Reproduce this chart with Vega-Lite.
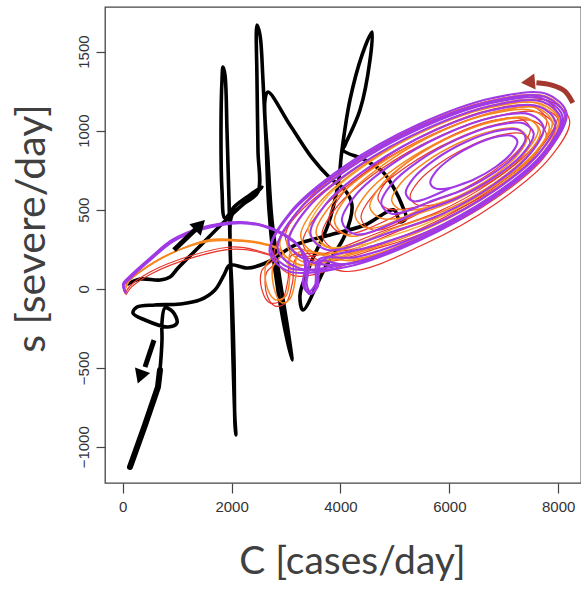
{
  "$schema": "https://vega.github.io/schema/vega-lite/v6.json",
  "width": 476,
  "height": 476,
  "autosize": {"type": "none"},
  "padding": {"left": 105, "top": 7, "right": 0, "bottom": 108},
  "background": "white",
  "config": {"view": {"stroke": "#444", "strokeWidth": 1.3}},
  "datasets": {
    "obs": [
      {"C":97,"s":30},{"C":318,"s":61},{"C":685,"s":55},{"C":869,"s":74},{"C":1016,"s":131},{"C":1420,"s":270},{"C":1879,"s":428},{"C":2338,"s":574},{"C":2559,"s":643},
      {"C":2338,"s":593},{"C":2063,"s":523},{"C":1879,"s":447},
      {"C":1824,"s":624},{"C":1806,"s":1004},{"C":1824,"s":1320},{"C":1842,"s":1402},{"C":1879,"s":1352},{"C":1916,"s":1004},{"C":1953,"s":561},
      {"C":1989,"s":55},{"C":2026,"s":-451},{"C":2063,"s":-831},{"C":2081,"s":-925},{"C":2063,"s":-862},{"C":2045,"s":-451},{"C":2008,"s":-8},{"C":1971,"s":308},{"C":2008,"s":466},
      {"C":2247,"s":542},{"C":2485,"s":612},
      {"C":2485,"s":877},{"C":2467,"s":1320},{"C":2467,"s":1668},{"C":2522,"s":1605},{"C":2577,"s":1320},{"C":2632,"s":940},{"C":2687,"s":498},{"C":2797,"s":118},{"C":2945,"s":-198},{"C":3110,"s":-451},{"C":3036,"s":-261},{"C":2890,"s":55},{"C":2742,"s":435},{"C":2669,"s":814},{"C":2614,"s":1194},{"C":2669,"s":1244},
      {"C":3073,"s":1035},{"C":3478,"s":827},{"C":3808,"s":700},{"C":4084,"s":624},
      {"C":4212,"s":529},{"C":4084,"s":340},{"C":3716,"s":131},{"C":3312,"s":-135},{"C":3257,"s":-40},{"C":3441,"s":150},{"C":3771,"s":403},{"C":3955,"s":656},{"C":4028,"s":877},
      {"C":4175,"s":1194},{"C":4396,"s":1478},{"C":4579,"s":1624},{"C":4543,"s":1447},{"C":4359,"s":1130},{"C":4084,"s":909},{"C":4047,"s":877},
      {"C":4451,"s":814},{"C":4781,"s":738},{"C":5002,"s":624},{"C":5131,"s":529},{"C":5204,"s":447},{"C":5094,"s":422},{"C":4984,"s":498},
      {"C":4451,"s":403},{"C":3808,"s":340},{"C":3165,"s":276},{"C":2669,"s":169},{"C":2302,"s":131},{"C":1971,"s":150},{"C":1861,"s":87},{"C":1695,"s":-8},{"C":1420,"s":-71},{"C":1053,"s":-97},{"C":593,"s":-103},{"C":263,"s":-116},{"C":189,"s":-154},{"C":410,"s":-198},{"C":832,"s":-242},{"C":997,"s":-217},{"C":924,"s":-147},{"C":777,"s":-122},{"C":722,"s":-211},{"C":722,"s":-325},{"C":685,"s":-514},{"C":648,"s":-622},{"C":410,"s":-862},{"C":134,"s":-1128}
    ],
    "tail": [
      {"C":685,"s":-514},{"C":648,"s":-622},{"C":410,"s":-862},{"C":134,"s":-1128}
    ],
    "sim": [
      {"g":"r","r":"R1","C":42,"s":-34},{"g":"r","r":"R1","C":134,"s":17},{"g":"r","r":"R1","C":502,"s":106},{"g":"r","r":"R1","C":1236,"s":207},{"g":"r","r":"R1","C":2008,"s":264},{"g":"r","r":"R1","C":2559,"s":232},{"g":"r","r":"R1","C":2797,"s":194},
      {"g":"r","r":"R1","C":2559,"s":118},{"g":"r","r":"R1","C":2559,"s":-8},{"g":"r","r":"R1","C":2706,"s":-90},{"g":"r","r":"R1","C":2926,"s":-71},{"g":"r","r":"R1","C":3036,"s":55},{"g":"r","r":"R1","C":3110,"s":213},
      {"g":"r","r":"R1","C":4138,"s":109},{"g":"r","r":"R1","C":5495,"s":275},{"g":"r","r":"R1","C":6853,"s":538},{"g":"r","r":"R1","C":7846,"s":827},{"g":"r","r":"R1","C":8210,"s":1064},{"g":"r","r":"R1","C":7846,"s":1187},{"g":"r","r":"R1","C":6853,"s":1161},{"g":"r","r":"R1","C":5495,"s":995},{"g":"r","r":"R1","C":4138,"s":732},{"g":"r","r":"R1","C":3144,"s":443},{"g":"r","r":"R1","C":2780,"s":206},{"g":"r","r":"R1","C":3144,"s":83},
      {"g":"r","r":"R1","C":4496,"s":199},{"g":"r","r":"R1","C":5681,"s":345},{"g":"r","r":"R1","C":6866,"s":575},{"g":"r","r":"R1","C":7733,"s":828},{"g":"r","r":"R1","C":8051,"s":1035},{"g":"r","r":"R1","C":7733,"s":1143},{"g":"r","r":"R1","C":6866,"s":1121},{"g":"r","r":"R1","C":5681,"s":975},{"g":"r","r":"R1","C":4496,"s":745},{"g":"r","r":"R1","C":3629,"s":492},{"g":"r","r":"R1","C":3311,"s":285},{"g":"r","r":"R1","C":3629,"s":177},
      {"g":"r","r":"R1","C":4735,"s":261},{"g":"r","r":"R1","C":5805,"s":392},{"g":"r","r":"R1","C":6875,"s":600},{"g":"r","r":"R1","C":7658,"s":829},{"g":"r","r":"R1","C":7945,"s":1016},{"g":"r","r":"R1","C":7658,"s":1113},{"g":"r","r":"R1","C":6875,"s":1093},{"g":"r","r":"R1","C":5805,"s":962},{"g":"r","r":"R1","C":4735,"s":754},{"g":"r","r":"R1","C":3952,"s":525},{"g":"r","r":"R1","C":3665,"s":338},{"g":"r","r":"R1","C":3952,"s":241},
      {"g":"r","r":"R1","C":5230,"s":386},{"g":"r","r":"R1","C":6080,"s":490},{"g":"r","r":"R1","C":6930,"s":654},{"g":"r","r":"R1","C":7552,"s":835},{"g":"r","r":"R1","C":7780,"s":983},{"g":"r","r":"R1","C":7552,"s":1060},{"g":"r","r":"R1","C":6930,"s":1044},{"g":"r","r":"R1","C":6080,"s":940},{"g":"r","r":"R1","C":5230,"s":776},{"g":"r","r":"R1","C":4608,"s":595},{"g":"r","r":"R1","C":4380,"s":447},{"g":"r","r":"R1","C":4608,"s":370},
      {"g":"r","r":"R1","C":5830,"s":539},{"g":"r","r":"R1","C":6380,"s":607},{"g":"r","r":"R1","C":6930,"s":715},{"g":"r","r":"R1","C":7333,"s":834},{"g":"r","r":"R1","C":7480,"s":931},{"g":"r","r":"R1","C":7333,"s":982},{"g":"r","r":"R1","C":6930,"s":971},{"g":"r","r":"R1","C":6380,"s":903},{"g":"r","r":"R1","C":5830,"s":795},{"g":"r","r":"R1","C":5427,"s":676},{"g":"r","r":"R1","C":5280,"s":579},{"g":"r","r":"R1","C":5427,"s":528},{"g":"r","r":"R1","C":5830,"s":539},

      {"g":"r","r":"R2","C":60,"s":-40},{"g":"r","r":"R2","C":160,"s":10},{"g":"r","r":"R2","C":530,"s":95},{"g":"r","r":"R2","C":1270,"s":195},{"g":"r","r":"R2","C":2040,"s":250},{"g":"r","r":"R2","C":2600,"s":222},{"g":"r","r":"R2","C":2850,"s":180},
      {"g":"r","r":"R2","C":2640,"s":100},{"g":"r","r":"R2","C":2650,"s":-40},{"g":"r","r":"R2","C":2800,"s":-110},{"g":"r","r":"R2","C":3000,"s":-90},{"g":"r","r":"R2","C":3120,"s":40},{"g":"r","r":"R2","C":3200,"s":200},
      {"g":"r","r":"R2","C":4240,"s":231},{"g":"r","r":"R2","C":5490,"s":382},{"g":"r","r":"R2","C":6740,"s":621},{"g":"r","r":"R2","C":7655,"s":884},{"g":"r","r":"R2","C":7990,"s":1101},{"g":"r","r":"R2","C":7655,"s":1212},{"g":"r","r":"R2","C":6740,"s":1189},{"g":"r","r":"R2","C":5490,"s":1038},{"g":"r","r":"R2","C":4240,"s":799},{"g":"r","r":"R2","C":3325,"s":536},{"g":"r","r":"R2","C":2990,"s":319},{"g":"r","r":"R2","C":3325,"s":208},
      {"g":"r","r":"R2","C":4790,"s":365},{"g":"r","r":"R2","C":5790,"s":486},{"g":"r","r":"R2","C":6790,"s":679},{"g":"r","r":"R2","C":7522,"s":890},{"g":"r","r":"R2","C":7790,"s":1064},{"g":"r","r":"R2","C":7522,"s":1154},{"g":"r","r":"R2","C":6790,"s":1135},{"g":"r","r":"R2","C":5790,"s":1014},{"g":"r","r":"R2","C":4790,"s":821},{"g":"r","r":"R2","C":4058,"s":610},{"g":"r","r":"R2","C":3790,"s":436},{"g":"r","r":"R2","C":4058,"s":346},
      {"g":"r","r":"R2","C":5390,"s":517},{"g":"r","r":"R2","C":6090,"s":604},{"g":"r","r":"R2","C":6790,"s":740},{"g":"r","r":"R2","C":7302,"s":889},{"g":"r","r":"R2","C":7490,"s":1012},{"g":"r","r":"R2","C":7302,"s":1076},{"g":"r","r":"R2","C":6790,"s":1063},{"g":"r","r":"R2","C":6090,"s":976},{"g":"r","r":"R2","C":5390,"s":840},{"g":"r","r":"R2","C":4878,"s":691},{"g":"r","r":"R2","C":4690,"s":568},{"g":"r","r":"R2","C":4878,"s":504},{"g":"r","r":"R2","C":5390,"s":517},

      {"g":"y","r":"Y1","C":30,"s":-15},{"g":"y","r":"Y1","C":110,"s":45},{"g":"y","r":"Y1","C":330,"s":110},{"g":"y","r":"Y1","C":880,"s":222},{"g":"y","r":"Y1","C":1580,"s":304},{"g":"y","r":"Y1","C":2170,"s":304},{"g":"y","r":"Y1","C":2580,"s":285},{"g":"y","r":"Y1","C":2920,"s":238},
      {"g":"y","r":"Y1","C":3050,"s":150},{"g":"y","r":"Y1","C":3711,"s":180},
      {"g":"y","r":"Y1","C":4535,"s":288},{"g":"y","r":"Y1","C":5660,"s":424},{"g":"y","r":"Y1","C":6785,"s":640},{"g":"y","r":"Y1","C":7609,"s":877},{"g":"y","r":"Y1","C":7910,"s":1072},{"g":"y","r":"Y1","C":7609,"s":1173},{"g":"y","r":"Y1","C":6785,"s":1152},{"g":"y","r":"Y1","C":5660,"s":1016},{"g":"y","r":"Y1","C":4535,"s":800},{"g":"y","r":"Y1","C":3711,"s":563},{"g":"y","r":"Y1","C":3410,"s":368},{"g":"y","r":"Y1","C":3711,"s":267},{"g":"y","r":"Y1","C":4535,"s":288},

      {"g":"o","r":"O1","C":24,"s":-21},{"g":"o","r":"O1","C":97,"s":42},{"g":"o","r":"O1","C":318,"s":106},{"g":"o","r":"O1","C":869,"s":219},{"g":"o","r":"O1","C":1567,"s":308},{"g":"o","r":"O1","C":2155,"s":308},{"g":"o","r":"O1","C":2559,"s":289},{"g":"o","r":"O1","C":2890,"s":245},
      {"g":"o","r":"O1","C":2632,"s":150},{"g":"o","r":"O1","C":2669,"s":-8},{"g":"o","r":"O1","C":2816,"s":-71},{"g":"o","r":"O1","C":2999,"s":-46},{"g":"o","r":"O1","C":3073,"s":87},{"g":"o","r":"O1","C":3110,"s":245},
      {"g":"o","r":"O1","C":4197,"s":177},{"g":"o","r":"O1","C":5507,"s":338},{"g":"o","r":"O1","C":6817,"s":591},{"g":"o","r":"O1","C":7775,"s":870},{"g":"o","r":"O1","C":8126,"s":1099},{"g":"o","r":"O1","C":7775,"s":1217},{"g":"o","r":"O1","C":6817,"s":1193},{"g":"o","r":"O1","C":5507,"s":1032},{"g":"o","r":"O1","C":4197,"s":779},{"g":"o","r":"O1","C":3239,"s":500},{"g":"o","r":"O1","C":2888,"s":271},{"g":"o","r":"O1","C":3239,"s":153},
      {"g":"o","r":"O1","C":4456,"s":242},{"g":"o","r":"O1","C":5641,"s":388},{"g":"o","r":"O1","C":6826,"s":618},{"g":"o","r":"O1","C":7693,"s":871},{"g":"o","r":"O1","C":8011,"s":1078},{"g":"o","r":"O1","C":7693,"s":1186},{"g":"o","r":"O1","C":6826,"s":1164},{"g":"o","r":"O1","C":5641,"s":1018},{"g":"o","r":"O1","C":4456,"s":788},{"g":"o","r":"O1","C":3589,"s":535},{"g":"o","r":"O1","C":3271,"s":328},{"g":"o","r":"O1","C":3589,"s":220},
      {"g":"o","r":"O1","C":4890,"s":353},{"g":"o","r":"O1","C":5890,"s":474},{"g":"o","r":"O1","C":6890,"s":667},{"g":"o","r":"O1","C":7622,"s":878},{"g":"o","r":"O1","C":7890,"s":1052},{"g":"o","r":"O1","C":7622,"s":1142},{"g":"o","r":"O1","C":6890,"s":1123},{"g":"o","r":"O1","C":5890,"s":1002},{"g":"o","r":"O1","C":4890,"s":809},{"g":"o","r":"O1","C":4158,"s":598},{"g":"o","r":"O1","C":3890,"s":424},{"g":"o","r":"O1","C":4158,"s":334},
      {"g":"o","r":"O1","C":5312,"s":460},{"g":"o","r":"O1","C":6086,"s":556},{"g":"o","r":"O1","C":6860,"s":707},{"g":"o","r":"O1","C":7426,"s":873},{"g":"o","r":"O1","C":7633,"s":1010},{"g":"o","r":"O1","C":7426,"s":1080},{"g":"o","r":"O1","C":6860,"s":1066},{"g":"o","r":"O1","C":6086,"s":970},{"g":"o","r":"O1","C":5312,"s":819},{"g":"o","r":"O1","C":4746,"s":653},{"g":"o","r":"O1","C":4539,"s":516},{"g":"o","r":"O1","C":4746,"s":446},{"g":"o","r":"O1","C":5312,"s":460},

      {"g":"o","r":"O2","C":40,"s":-10},{"g":"o","r":"O2","C":120,"s":50},{"g":"o","r":"O2","C":340,"s":115},{"g":"o","r":"O2","C":890,"s":225},{"g":"o","r":"O2","C":1600,"s":300},{"g":"o","r":"O2","C":2200,"s":300},{"g":"o","r":"O2","C":2600,"s":280},{"g":"o","r":"O2","C":2950,"s":230},
      {"g":"o","r":"O2","C":2760,"s":140},{"g":"o","r":"O2","C":2800,"s":-20},{"g":"o","r":"O2","C":2930,"s":-90},{"g":"o","r":"O2","C":3080,"s":-60},{"g":"o","r":"O2","C":3180,"s":80},{"g":"o","r":"O2","C":3230,"s":230},
      {"g":"o","r":"O2","C":4270,"s":189},{"g":"o","r":"O2","C":5520,"s":340},{"g":"o","r":"O2","C":6770,"s":579},{"g":"o","r":"O2","C":7685,"s":842},{"g":"o","r":"O2","C":8020,"s":1059},{"g":"o","r":"O2","C":7685,"s":1170},{"g":"o","r":"O2","C":6770,"s":1147},{"g":"o","r":"O2","C":5520,"s":996},{"g":"o","r":"O2","C":4270,"s":757},{"g":"o","r":"O2","C":3355,"s":494},{"g":"o","r":"O2","C":3020,"s":277},{"g":"o","r":"O2","C":3355,"s":166},
      {"g":"o","r":"O2","C":4625,"s":274},{"g":"o","r":"O2","C":5695,"s":405},{"g":"o","r":"O2","C":6765,"s":613},{"g":"o","r":"O2","C":7548,"s":842},{"g":"o","r":"O2","C":7835,"s":1029},{"g":"o","r":"O2","C":7548,"s":1126},{"g":"o","r":"O2","C":6765,"s":1106},{"g":"o","r":"O2","C":5695,"s":975},{"g":"o","r":"O2","C":4625,"s":767},{"g":"o","r":"O2","C":3842,"s":538},{"g":"o","r":"O2","C":3555,"s":351},{"g":"o","r":"O2","C":3842,"s":254},
      {"g":"o","r":"O2","C":5120,"s":399},{"g":"o","r":"O2","C":5970,"s":503},{"g":"o","r":"O2","C":6820,"s":667},{"g":"o","r":"O2","C":7442,"s":848},{"g":"o","r":"O2","C":7670,"s":996},{"g":"o","r":"O2","C":7442,"s":1073},{"g":"o","r":"O2","C":6820,"s":1057},{"g":"o","r":"O2","C":5970,"s":953},{"g":"o","r":"O2","C":5120,"s":789},{"g":"o","r":"O2","C":4498,"s":608},{"g":"o","r":"O2","C":4270,"s":460},{"g":"o","r":"O2","C":4498,"s":383},
      {"g":"o","r":"O2","C":5562,"s":512},{"g":"o","r":"O2","C":6182,"s":589},{"g":"o","r":"O2","C":6802,"s":711},{"g":"o","r":"O2","C":7256,"s":845},{"g":"o","r":"O2","C":7422,"s":955},{"g":"o","r":"O2","C":7256,"s":1012},{"g":"o","r":"O2","C":6802,"s":1000},{"g":"o","r":"O2","C":6182,"s":923},{"g":"o","r":"O2","C":5562,"s":801},{"g":"o","r":"O2","C":5108,"s":667},{"g":"o","r":"O2","C":4942,"s":557},{"g":"o","r":"O2","C":5108,"s":500},{"g":"o","r":"O2","C":5562,"s":512},

      {"g":"p","r":"P1","C":42,"s":-21},{"g":"p","r":"P1","C":6,"s":30},{"g":"p","r":"P1","C":134,"s":80},{"g":"p","r":"P1","C":502,"s":194},{"g":"p","r":"P1","C":906,"s":308},{"g":"p","r":"P1","C":1420,"s":384},{"g":"p","r":"P1","C":2118,"s":422},{"g":"p","r":"P1","C":2559,"s":403},{"g":"p","r":"P1","C":2890,"s":359},{"g":"p","r":"P1","C":3220,"s":276},
      {"g":"p","r":"P1","C":3349,"s":150},{"g":"p","r":"P1","C":3312,"s":23},{"g":"p","r":"P1","C":3404,"s":-21},{"g":"p","r":"P1","C":3533,"s":23},{"g":"p","r":"P1","C":3588,"s":182},
      {"g":"p","r":"P1","C":4300,"s":201},{"g":"p","r":"P1","C":5550,"s":352},{"g":"p","r":"P1","C":6800,"s":591},{"g":"p","r":"P1","C":7715,"s":854},{"g":"p","r":"P1","C":8050,"s":1071},{"g":"p","r":"P1","C":7715,"s":1182},{"g":"p","r":"P1","C":6800,"s":1159},{"g":"p","r":"P1","C":5550,"s":1008},{"g":"p","r":"P1","C":4300,"s":769},{"g":"p","r":"P1","C":3385,"s":506},{"g":"p","r":"P1","C":3050,"s":289},{"g":"p","r":"P1","C":3385,"s":178},
      {"g":"p","r":"P1","C":4157,"s":159},{"g":"p","r":"P1","C":5467,"s":320},{"g":"p","r":"P1","C":6777,"s":573},{"g":"p","r":"P1","C":7735,"s":852},{"g":"p","r":"P1","C":8086,"s":1081},{"g":"p","r":"P1","C":7735,"s":1199},{"g":"p","r":"P1","C":6777,"s":1175},{"g":"p","r":"P1","C":5467,"s":1014},{"g":"p","r":"P1","C":4157,"s":761},{"g":"p","r":"P1","C":3199,"s":482},{"g":"p","r":"P1","C":2848,"s":253},{"g":"p","r":"P1","C":3199,"s":135},
      {"g":"p","r":"P1","C":4058,"s":134},{"g":"p","r":"P1","C":5415,"s":300},{"g":"p","r":"P1","C":6773,"s":563},{"g":"p","r":"P1","C":7766,"s":852},{"g":"p","r":"P1","C":8130,"s":1089},{"g":"p","r":"P1","C":7766,"s":1212},{"g":"p","r":"P1","C":6773,"s":1186},{"g":"p","r":"P1","C":5415,"s":1020},{"g":"p","r":"P1","C":4058,"s":757},{"g":"p","r":"P1","C":3064,"s":468},{"g":"p","r":"P1","C":2700,"s":231},{"g":"p","r":"P1","C":3064,"s":108},{"g":"p","r":"P1","C":4058,"s":134},

      {"g":"p","r":"P3","C":50,"s":-25},{"g":"p","r":"P3","C":15,"s":25},{"g":"p","r":"P3","C":140,"s":75},{"g":"p","r":"P3","C":510,"s":190},{"g":"p","r":"P3","C":915,"s":305},{"g":"p","r":"P3","C":1435,"s":380},{"g":"p","r":"P3","C":2130,"s":420},{"g":"p","r":"P3","C":2570,"s":400},{"g":"p","r":"P3","C":2900,"s":355},{"g":"p","r":"P3","C":3230,"s":270},
      {"g":"p","r":"P3","C":3380,"s":140},{"g":"p","r":"P3","C":3350,"s":10},{"g":"p","r":"P3","C":3440,"s":-35},{"g":"p","r":"P3","C":3560,"s":15},{"g":"p","r":"P3","C":3620,"s":175},
      {"g":"p","r":"P3","C":4083,"s":154},{"g":"p","r":"P3","C":5440,"s":320},{"g":"p","r":"P3","C":6798,"s":583},{"g":"p","r":"P3","C":7791,"s":872},{"g":"p","r":"P3","C":8155,"s":1109},{"g":"p","r":"P3","C":7791,"s":1232},{"g":"p","r":"P3","C":6798,"s":1206},{"g":"p","r":"P3","C":5440,"s":1040},{"g":"p","r":"P3","C":4083,"s":777},{"g":"p","r":"P3","C":3089,"s":488},{"g":"p","r":"P3","C":2725,"s":251},{"g":"p","r":"P3","C":3089,"s":128},{"g":"p","r":"P3","C":4083,"s":154},

      {"g":"p","r":"P2","C":60,"s":-30},{"g":"p","r":"P2","C":20,"s":20},{"g":"p","r":"P2","C":150,"s":70},{"g":"p","r":"P2","C":520,"s":185},{"g":"p","r":"P2","C":930,"s":300},{"g":"p","r":"P2","C":1450,"s":375},{"g":"p","r":"P2","C":2150,"s":415},{"g":"p","r":"P2","C":2580,"s":395},{"g":"p","r":"P2","C":2950,"s":340},{"g":"p","r":"P2","C":3250,"s":260},
      {"g":"p","r":"P2","C":3420,"s":160},{"g":"p","r":"P2","C":3380,"s":30},{"g":"p","r":"P2","C":3460,"s":-30},{"g":"p","r":"P2","C":3580,"s":10},{"g":"p","r":"P2","C":3650,"s":170},
      {"g":"p","r":"P2","C":4575,"s":268},{"g":"p","r":"P2","C":5700,"s":404},{"g":"p","r":"P2","C":6825,"s":620},{"g":"p","r":"P2","C":7649,"s":857},{"g":"p","r":"P2","C":7950,"s":1052},{"g":"p","r":"P2","C":7649,"s":1153},{"g":"p","r":"P2","C":6825,"s":1132},{"g":"p","r":"P2","C":5700,"s":996},{"g":"p","r":"P2","C":4575,"s":780},{"g":"p","r":"P2","C":3751,"s":543},{"g":"p","r":"P2","C":3450,"s":348},{"g":"p","r":"P2","C":3751,"s":247},
      {"g":"p","r":"P2","C":4954,"s":361},{"g":"p","r":"P2","C":5881,"s":475},{"g":"p","r":"P2","C":6808,"s":656},{"g":"p","r":"P2","C":7486,"s":855},{"g":"p","r":"P2","C":7734,"s":1018},{"g":"p","r":"P2","C":7486,"s":1102},{"g":"p","r":"P2","C":6808,"s":1085},{"g":"p","r":"P2","C":5881,"s":971},{"g":"p","r":"P2","C":4954,"s":790},{"g":"p","r":"P2","C":4276,"s":591},{"g":"p","r":"P2","C":4028,"s":428},{"g":"p","r":"P2","C":4276,"s":344},
      {"g":"p","r":"P2","C":5450,"s":487},{"g":"p","r":"P2","C":6150,"s":574},{"g":"p","r":"P2","C":6850,"s":710},{"g":"p","r":"P2","C":7362,"s":859},{"g":"p","r":"P2","C":7550,"s":982},{"g":"p","r":"P2","C":7362,"s":1046},{"g":"p","r":"P2","C":6850,"s":1033},{"g":"p","r":"P2","C":6150,"s":946},{"g":"p","r":"P2","C":5450,"s":810},{"g":"p","r":"P2","C":4938,"s":661},{"g":"p","r":"P2","C":4750,"s":538},{"g":"p","r":"P2","C":4938,"s":474},
      {"g":"p","r":"P2","C":5750,"s":564},{"g":"p","r":"P2","C":6300,"s":632},{"g":"p","r":"P2","C":6850,"s":740},{"g":"p","r":"P2","C":7253,"s":859},{"g":"p","r":"P2","C":7400,"s":956},{"g":"p","r":"P2","C":7253,"s":1007},{"g":"p","r":"P2","C":6850,"s":996},{"g":"p","r":"P2","C":6300,"s":928},{"g":"p","r":"P2","C":5750,"s":820},{"g":"p","r":"P2","C":5347,"s":701},{"g":"p","r":"P2","C":5200,"s":604},{"g":"p","r":"P2","C":5347,"s":553},
      {"g":"p","r":"P2","C":6050,"s":640},{"g":"p","r":"P2","C":6450,"s":691},{"g":"p","r":"P2","C":6850,"s":770},{"g":"p","r":"P2","C":7143,"s":858},{"g":"p","r":"P2","C":7250,"s":930},{"g":"p","r":"P2","C":7143,"s":967},{"g":"p","r":"P2","C":6850,"s":960},{"g":"p","r":"P2","C":6450,"s":909},{"g":"p","r":"P2","C":6050,"s":830},{"g":"p","r":"P2","C":5757,"s":742},{"g":"p","r":"P2","C":5650,"s":670},{"g":"p","r":"P2","C":5757,"s":633},{"g":"p","r":"P2","C":6050,"s":640}
    ],
    "shafts": [
      {"C":942,"s":245,"C2":1365,"s2":384},
      {"C":575,"s":-325,"C2":410,"s2":-495}
    ],
    "curve": [
      {"C":8268,"s":1175},{"C":8121,"s":1250},{"C":7882,"s":1288},{"C":7600,"s":1303}
    ]
  },
  "encoding": {
    "x": {
      "field": "C", "type": "quantitative",
      "scale": {"domain": [-325, 8419], "nice": false, "zero": false},
      "axis": {
        "title": "C [cases/day]", "values": [0, 2000, 4000, 6000, 8000], "format": "d", "grid": false, "domain": false,
        "tickSize": 10, "tickColor": "#444", "tickWidth": 1.2,
        "labelFont": "Liberation Sans", "labelFontSize": 15, "labelColor": "#333", "labelPadding": 6,
        "labelFlush": false, "labelOverlap": false,
        "titleFont": "Lato", "titleFontSize": 39, "titleFontWeight": "normal", "titleColor": "#404040",
        "titleX": 247, "titleY": 90, "titleAlign": "center", "titleBaseline": "alphabetic"
      }
    },
    "y": {
      "field": "s", "type": "quantitative",
      "scale": {"domain": [-1229, 1782], "nice": false, "zero": false},
      "axis": {
        "title": "s [severe/day]", "values": [-1000, -500, 0, 500, 1000, 1500], "format": "d", "grid": false, "domain": false,
        "tickSize": 9, "tickColor": "#444", "tickWidth": 1.2,
        "labelFont": "Liberation Sans", "labelFontSize": 15, "labelColor": "#333", "labelPadding": 5,
        "labelAngle": -90, "labelAlign": "center", "labelBaseline": "bottom",
        "labelFlush": false, "labelOverlap": false,
        "titleFont": "Lato", "titleFontSize": 41, "titleFontWeight": "normal", "titleColor": "#404040",
        "titleAngle": -90, "titleX": -61, "titleY": 221, "titleAlign": "center", "titleBaseline": "alphabetic"
      }
    }
  },
  "layer": [
    {
      "data": {"name": "obs"},
      "mark": {"type": "line", "color": "black", "strokeWidth": 3.6, "interpolate": "catmull-rom", "strokeCap": "round", "strokeJoin": "round"},
      "encoding": {"order": {"value": null}}
    },
    {
      "data": {"name": "tail"},
      "mark": {"type": "line", "color": "black", "strokeWidth": 6, "strokeCap": "round"},
      "encoding": {"order": {"value": null}}
    },
    {
      "data": {"name": "sim"},
      "transform": [{"filter": "datum.g === 'r'"}],
      "mark": {"type": "line", "color": "#e8352b", "strokeWidth": 1.2, "interpolate": "catmull-rom"},
      "encoding": {"detail": {"field": "r"}, "order": {"value": null}}
    },
    {
      "data": {"name": "sim"},
      "transform": [{"filter": "datum.g === 'y'"}],
      "mark": {"type": "line", "color": "#f2b23a", "strokeWidth": 1.4, "interpolate": "catmull-rom"},
      "encoding": {"detail": {"field": "r"}, "order": {"value": null}}
    },
    {
      "data": {"name": "sim"},
      "transform": [{"filter": "datum.g === 'o'"}],
      "mark": {"type": "line", "color": "#f7861f", "strokeWidth": 1.5, "interpolate": "catmull-rom"},
      "encoding": {"detail": {"field": "r"}, "order": {"value": null}}
    },
    {
      "data": {"name": "sim"},
      "transform": [{"filter": "datum.g === 'p'"}],
      "mark": {"type": "line", "color": "#a03ae6", "strokeWidth": 2.1, "interpolate": "catmull-rom"},
      "encoding": {"detail": {"field": "r"}, "order": {"value": null}}
    },
    {
      "data": {"name": "shafts"},
      "mark": {"type": "rule", "color": "black", "strokeWidth": 5},
      "encoding": {"x2": {"field": "C2"}, "y2": {"field": "s2"}}
    },
    {
      "data": {"values": [{"C": 1420, "s": 403}]},
      "mark": {"type": "point", "shape": "triangle-up", "filled": true, "color": "black", "opacity": 1, "size": 260, "angle": 45}
    },
    {
      "data": {"values": [{"C": 321, "s": -558}]},
      "mark": {"type": "point", "shape": "triangle-up", "filled": true, "color": "black", "opacity": 1, "size": 260, "angle": 200}
    },
    {
      "data": {"name": "curve"},
      "mark": {"type": "line", "color": "#a3392e", "strokeWidth": 5, "interpolate": "catmull-rom"},
      "encoding": {"order": {"value": null}}
    },
    {
      "data": {"values": [{"C": 7445, "s": 1307}]},
      "mark": {"type": "point", "shape": "triangle-up", "filled": true, "color": "#a3392e", "opacity": 1, "size": 260, "angle": 265}
    }
  ]
}
